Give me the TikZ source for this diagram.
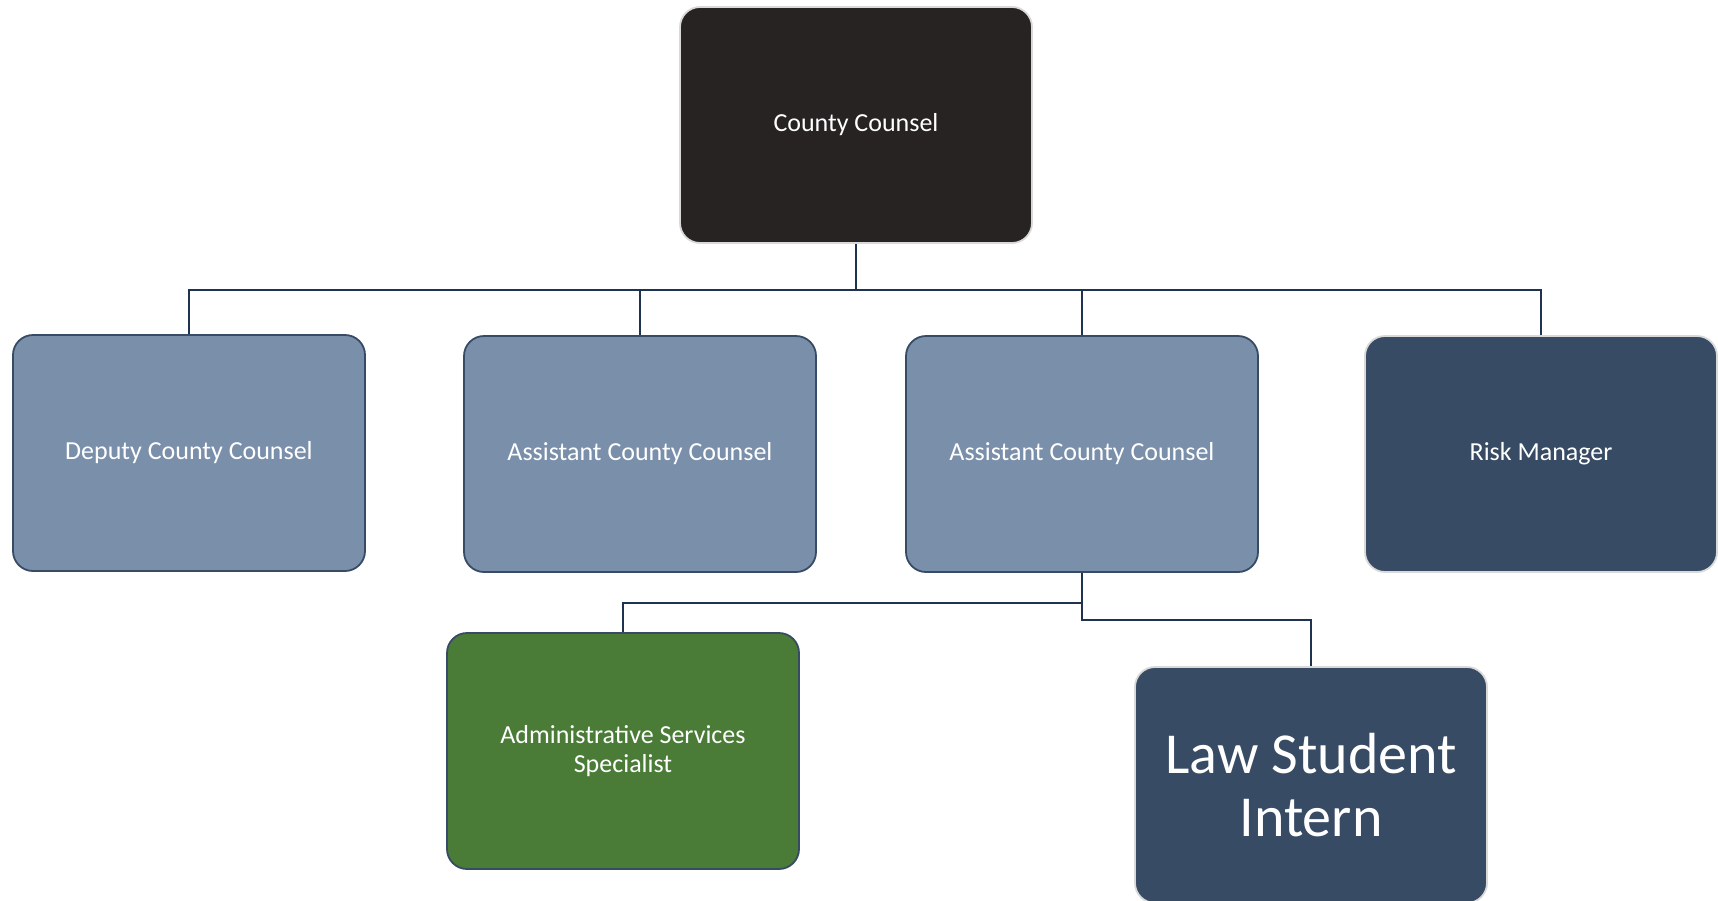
\documentclass[tikz,border=0pt]{standalone}
\usepackage{fontspec}
\setmainfont{Carlito}
\usepackage{xcolor}
\usetikzlibrary{positioning}
\definecolor{boxblack}{RGB}{39,35,34}
\definecolor{boxlight}{RGB}{122,143,170}
\definecolor{boxnavy}{RGB}{55,75,100}
\definecolor{boxgreen}{RGB}{74,124,55}
\definecolor{linenavy}{RGB}{31,50,80}
\definecolor{rimgray}{RGB}{217,217,217}

\begin{document}
\begin{tikzpicture}[x=0.5pt, y=-0.5pt,
    unit/.style={rectangle, rounded corners=10pt, minimum width=176pt, minimum height=118pt, text=white, align=center, font=\fontsize{13}{14.5}\selectfont, line width=0.9pt},
    lightunit/.style={unit, fill=boxlight, draw=boxnavy},
    darkunit/.style={unit, draw=rimgray},
    link/.style={draw=linenavy, line width=1.1pt}]
            \useasboundingbox (0, 0) rectangle (1718, 900);
            \node[darkunit, fill=boxblack] (cc) at (856, 125) {County Counsel};
            \node[lightunit] (dcc) at (189, 453) {Deputy County Counsel};
            \node[lightunit] (acc1) at (640, 454) {Assistant County Counsel};
            \node[lightunit] (acc2) at (1082, 454) {Assistant County Counsel};
            \node[darkunit, fill=boxnavy] (rm) at (1541, 454) {Risk Manager};
            \node[lightunit, fill=boxgreen] (ass) at (623, 751) {Administrative Services\\Specialist};
            \node[darkunit, fill=boxnavy, font=\fontsize{29}{31.5}\selectfont] (lsi) at (1311, 785) {Law Student\\Intern};
        
            \draw[link] (cc.south) -- ++(0, 46) coordinate (bus);
            \draw[link] (dcc.north) |- (bus);
            \draw[link] (acc1.north) |- (bus);
            \draw[link] (acc2.north) |- (bus);
            \draw[link] (rm.north) |- (bus);
            \draw[link] (acc2.south) -- ++(0, 30) coordinate (split);
            \draw[link] (split) -| (ass.north);
            \draw[link] (split) -- ++(0, 17) -| (lsi.north);
        \end{tikzpicture}
\end{document}
